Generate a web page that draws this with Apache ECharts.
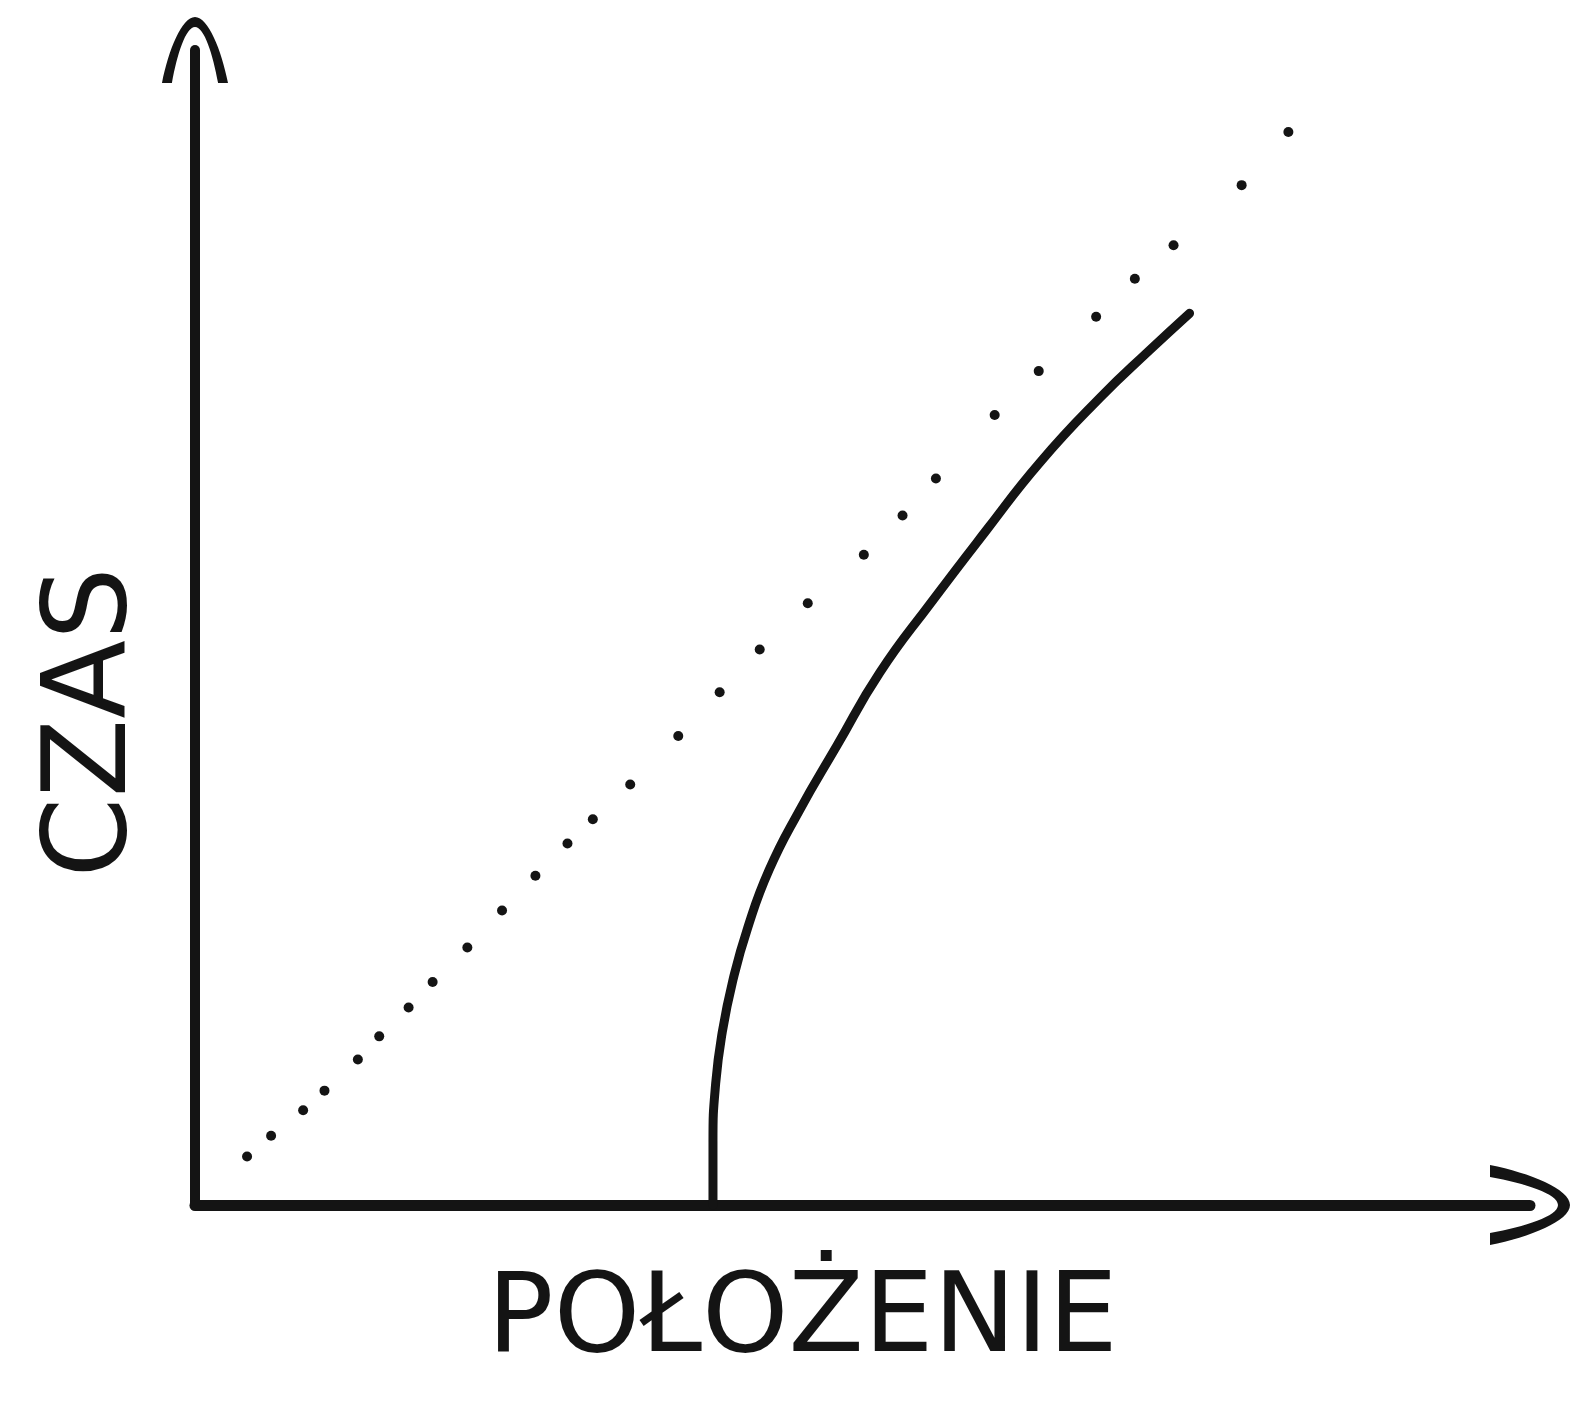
<!DOCTYPE html>
<html>
<head>
<meta charset="utf-8">
<script src="https://cdn.jsdelivr.net/npm/echarts@6/dist/echarts.min.js"></script>
<style>
  html, body { margin: 0; padding: 0; background: #ffffff; }
  #chart { width: 1572px; height: 1404px; }
</style>
</head>
<body>
<div id="chart"></div>
<script>
// Axis titles (Polish, as in the sketch)
const xAxisTitle = 'POŁOŻENIE';
const yAxisTitle = 'CZAS';

// Dotted straight reference line: positions of the hand-drawn dots [position, time]
const dottedX = [3.9, 5.7, 8.1, 9.7, 12.2, 13.8, 16.0, 17.8, 20.4, 23.0, 25.5, 27.9, 29.8, 32.6,
                 36.2, 39.3, 42.3, 45.9, 50.1, 53.0, 55.5, 59.9, 63.2, 67.5, 70.4, 73.3, 78.4, 81.9];
const dottedY = [4.2, 6.0, 8.2, 9.9, 12.6, 14.6, 17.1, 19.3, 22.3, 25.5, 28.5, 31.3, 33.4, 36.4,
                 40.6, 44.4, 48.1, 52.1, 56.3, 59.7, 62.9, 68.4, 72.2, 76.9, 80.2, 83.1, 88.3, 92.9];

// Solid curve [position, time]
const curveX = [38.8, 38.8, 39.0, 39.5, 40.3, 41.4, 43.0, 45.2, 48.1, 51.3, 55.1, 59.2, 63.3, 67.8, 71.5, 74.5];
const curveY = [0, 5.5, 10.5, 15.0, 19.5, 24.0, 29.0, 34.0, 39.8, 46.1, 52.1, 58.3, 64.3, 69.9, 74.0, 77.2];

const ink = '#141414';
const arrowPath = 'path://M0,100 C10,50 30,0 50,0 C70,0 90,50 100,100 L85,100 C77,56 64,15 50,15 C36,15 23,56 15,100 Z';

const chart = echarts.init(document.getElementById('chart'), null, { renderer: 'canvas' });
chart.setOption({
  backgroundColor: '#ffffff',
  animation: false,
  grid: { left: 195, right: 42, top: 50, bottom: 199, containLabel: false },
  xAxis: {
    type: 'value', min: 0, max: 100,
    name: xAxisTitle, nameLocation: 'middle', nameGap: 62,
    nameTextStyle: { fontFamily: 'DejaVu Sans', fontSize: 110, color: ink, padding: [0, 120, 0, 0] },
    axisLine: { show: true, onZero: false, lineStyle: { color: ink, width: 11, cap: 'round' },
                symbol: ['none', arrowPath], symbolSize: [110, 80] },
    axisTick: { show: false }, axisLabel: { show: false }, splitLine: { show: false }
  },
  yAxis: {
    type: 'value', min: 0, max: 100,
    name: yAxisTitle, nameLocation: 'middle', nameGap: 42,
    nameTextStyle: { fontFamily: 'DejaVu Sans', fontSize: 115, color: ink, padding: [0, 190, 0, 0] },
    axisLine: { show: true, onZero: false, lineStyle: { color: ink, width: 10, cap: 'round' },
                symbol: ['none', arrowPath], symbolSize: [66, 80] },
    axisTick: { show: false }, axisLabel: { show: false }, splitLine: { show: false }
  },
  series: [
    {
      type: 'scatter',
      data: dottedX.map((x, i) => [x, dottedY[i]]),
      symbol: 'circle', symbolSize: 10,
      itemStyle: { color: ink, opacity: 1 }
    },
    {
      type: 'line',
      data: curveX.map((x, i) => [x, curveY[i]]),
      smooth: 0.5, showSymbol: false, symbol: 'none',
      lineStyle: { color: ink, width: 9, cap: 'round' }
    }
  ]
});
</script>
</body>
</html>
